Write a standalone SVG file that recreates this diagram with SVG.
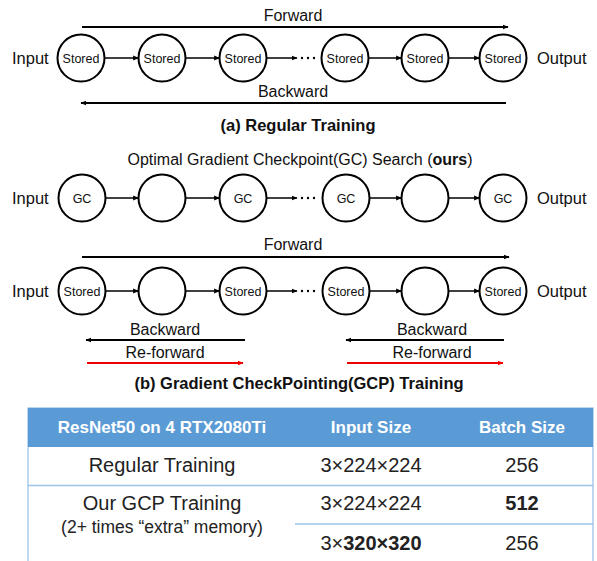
<svg xmlns="http://www.w3.org/2000/svg" width="597" height="561" viewBox="0 0 597 561">
<defs>
<marker id="ah" viewBox="0 0 10 10" refX="9" refY="5" markerWidth="6" markerHeight="6" markerUnits="userSpaceOnUse" orient="auto"><path d="M0,1 L10,5 L0,9 z" fill="#000"/></marker>
<marker id="ahr" viewBox="0 0 10 10" refX="9" refY="5" markerWidth="6" markerHeight="6" markerUnits="userSpaceOnUse" orient="auto"><path d="M0,1 L10,5 L0,9 z" fill="#e00"/></marker>
<style>
text{font-family:"Liberation Sans","Noto Sans",Arial,sans-serif;fill:#111}
.lbl{font-size:16px}
.io{font-size:16.5px}
.nd{font-size:12.5px;text-anchor:middle}
.c{fill:#fff;stroke:#000;stroke-width:2}
.e{stroke:#000;stroke-width:1.5;fill:none;marker-end:url(#ah)}
.long{stroke:#000;stroke-width:2;fill:none;marker-end:url(#ah)}
.red{stroke:#e00;stroke-width:2;fill:none;marker-end:url(#ahr)}
.mid{text-anchor:middle}
.ttl{font-size:16.5px;font-weight:bold;text-anchor:middle}
.hd{font-size:17px;font-weight:bold;fill:#fff;text-anchor:middle}
.tb{font-size:20px;text-anchor:middle;fill:#222}
.tl{stroke:#9dc3e6;stroke-width:1.3}
</style>
</defs>

<!-- Row 1 -->
<g id="row1">
<text class="io" x="12" y="64">Input</text>
<text class="io" x="537" y="64">Output</text>
<g id="r1n1"><circle class="c" cx="81" cy="58" r="23.5"/><text class="nd" x="81" y="62.5">Stored</text></g>
<g id="r1n2"><circle class="c" cx="162" cy="58" r="23.5"/><text class="nd" x="162" y="62.5">Stored</text></g>
<g id="r1n3"><circle class="c" cx="243" cy="58" r="23.5"/><text class="nd" x="243" y="62.5">Stored</text></g>
<g id="r1n4"><circle class="c" cx="345" cy="58" r="23.5"/><text class="nd" x="345" y="62.5">Stored</text></g>
<g id="r1n5"><circle class="c" cx="425" cy="58" r="23.5"/><text class="nd" x="425" y="62.5">Stored</text></g>
<g id="r1n6"><circle class="c" cx="503" cy="58" r="23.5"/><text class="nd" x="503" y="62.5">Stored</text></g>
<text class="lbl mid" x="293" y="21">Forward</text>
<text class="lbl mid" x="293" y="97">Backward</text>
<text class="ttl" x="298" y="131">(a) Regular Training</text>
</g>

<!-- Row 2 -->
<g id="row2">
<text class="lbl mid" x="300" y="165">Optimal Gradient Checkpoint(GC) Search (<tspan font-weight="bold">ours</tspan>)</text>
<text class="io" x="12" y="204">Input</text>
<text class="io" x="537" y="204">Output</text>
<g id="r2n1"><circle class="c" cx="82" cy="198" r="23.5"/><text class="nd" x="82" y="202.5">GC</text></g>
<g id="r2n2"><circle class="c" cx="162" cy="198" r="23.5"/></g>
<g id="r2n3"><circle class="c" cx="243" cy="198" r="23.5"/><text class="nd" x="243" y="202.5">GC</text></g>
<g id="r2n4"><circle class="c" cx="346" cy="198" r="23.5"/><text class="nd" x="346" y="202.5">GC</text></g>
<g id="r2n5"><circle class="c" cx="425" cy="198" r="23.5"/></g>
<g id="r2n6"><circle class="c" cx="503" cy="198" r="23.5"/><text class="nd" x="503" y="202.5">GC</text></g>
</g>

<!-- Row 3 -->
<g id="row3">
<text class="lbl mid" x="293" y="250">Forward</text>
<text class="io" x="12" y="297">Input</text>
<text class="io" x="537" y="297">Output</text>
<g id="r3n1"><circle class="c" cx="82" cy="291" r="23.5"/><text class="nd" x="82" y="295.5">Stored</text></g>
<g id="r3n2"><circle class="c" cx="162" cy="291" r="23.5"/></g>
<g id="r3n3"><circle class="c" cx="243" cy="291" r="23.5"/><text class="nd" x="243" y="295.5">Stored</text></g>
<g id="r3n4"><circle class="c" cx="346" cy="291" r="23.5"/><text class="nd" x="346" y="295.5">Stored</text></g>
<g id="r3n5"><circle class="c" cx="425" cy="291" r="23.5"/></g>
<g id="r3n6"><circle class="c" cx="503" cy="291" r="23.5"/><text class="nd" x="503" y="295.5">Stored</text></g>
<text class="lbl mid" x="165" y="335">Backward</text>
<text class="lbl mid" x="165" y="358">Re-forward</text>
<text class="lbl mid" x="432" y="335">Backward</text>
<text class="lbl mid" x="432" y="358">Re-forward</text>
<text class="ttl" x="299" y="389">(b) Gradient CheckPointing(GCP) Training</text>
</g>

<!-- Connectors -->
<g id="connectors">
<line class="long" x1="82" y1="27" x2="508" y2="27"/>
<line class="long" x1="506" y1="103" x2="81" y2="103"/>
<line class="e" x1="104.5" y1="58" x2="138.5" y2="58"/>
<line class="e" x1="185.5" y1="58" x2="219.5" y2="58"/>
<line class="e" x1="266.5" y1="58" x2="297" y2="58"/>
<line class="e" x1="368.5" y1="58" x2="401.5" y2="58"/>
<line class="e" x1="448.5" y1="58" x2="479.5" y2="58"/>

<line class="e" x1="105.5" y1="198" x2="138.5" y2="198"/>
<line class="e" x1="185.5" y1="198" x2="219.5" y2="198"/>
<line class="e" x1="266.5" y1="198" x2="297" y2="198"/>
<line class="e" x1="369.5" y1="198" x2="401.5" y2="198"/>
<line class="e" x1="448.5" y1="198" x2="479.5" y2="198"/>

<line class="long" x1="82" y1="257" x2="509" y2="257"/>
<line class="e" x1="105.5" y1="291" x2="138.5" y2="291"/>
<line class="e" x1="185.5" y1="291" x2="219.5" y2="291"/>
<line class="e" x1="266.5" y1="291" x2="297" y2="291"/>
<line class="e" x1="369.5" y1="291" x2="401.5" y2="291"/>
<line class="e" x1="448.5" y1="291" x2="479.5" y2="291"/>

<line class="long" x1="245" y1="340" x2="86" y2="340"/>
<line class="red" x1="87" y1="363" x2="243" y2="363"/>
<line class="long" x1="504" y1="340" x2="346" y2="340"/>
<line class="red" x1="347" y1="363" x2="503" y2="363"/>
</g>

<!-- ellipses -->
<g id="dots" fill="#000">
<circle cx="302" cy="58" r="1.2"/><circle cx="308" cy="58" r="1.2"/><circle cx="314" cy="58" r="1.2"/>
<circle cx="302" cy="198" r="1.2"/><circle cx="308" cy="198" r="1.2"/><circle cx="314" cy="198" r="1.2"/>
<circle cx="302" cy="291" r="1.2"/><circle cx="308" cy="291" r="1.2"/><circle cx="314" cy="291" r="1.2"/>
</g>

<!-- Table -->
<g id="table">
<rect x="28" y="408" width="565" height="160" fill="#fff" stroke="#9dc3e6" stroke-width="1.3"/>
<rect x="28" y="408" width="565" height="39" fill="#5b9bd5"/>
<line class="tl" x1="28" y1="485.5" x2="593" y2="485.5"/>
<line class="tl" x1="295" y1="524" x2="593" y2="524"/>
<text class="hd" x="162" y="433">ResNet50 on 4 RTX2080Ti</text>
<text class="hd" x="371" y="433">Input Size</text>
<text class="hd" x="522" y="433">Batch Size</text>
<text class="tb" x="162" y="472">Regular Training</text>
<text class="tb" x="371" y="472">3×224×224</text>
<text class="tb" x="522" y="472">256</text>
<text class="tb" x="162" y="510">Our GCP Training</text>
<text class="tb" x="162" y="533" style="font-size:17.5px">(2+ times “extra” memory)</text>
<text class="tb" x="371" y="510">3×224×224</text>
<text class="tb" x="522" y="510" font-weight="bold">512</text>
<text class="tb" x="371" y="550">3×<tspan font-weight="bold">320×320</tspan></text>
<text class="tb" x="522" y="550">256</text>
</g>
</svg>
